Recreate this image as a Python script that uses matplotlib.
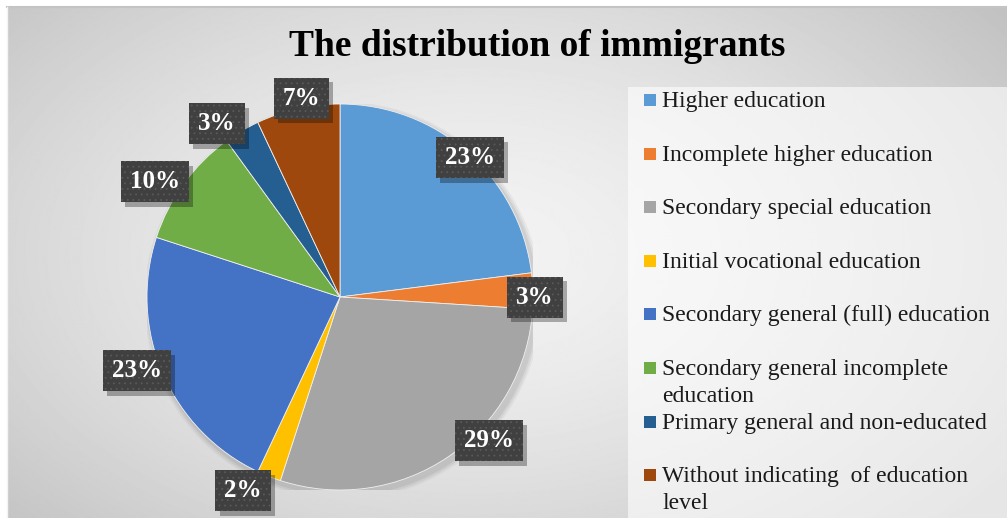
import numpy as np
import matplotlib
matplotlib.use("Agg")
import matplotlib.pyplot as plt
import matplotlib.patheffects as pe
from matplotlib.patches import Rectangle

# ---- data ----
categories = [
    "Higher education",
    "Incomplete higher education",
    "Secondary special education",
    "Initial vocational education",
    "Secondary general (full) education",
    "Secondary general incomplete\neducation",
    "Primary general and non-educated",
    "Without indicating  of education\nlevel",
]
shares = [23, 3, 29, 2, 23, 10, 3, 7]
colors = ["#5B9BD5", "#ED7D31", "#A5A5A5", "#FFC000",
          "#4472C4", "#70AD47", "#255E91", "#9E480E"]
title = "The distribution of immigrants"

# label placement tweaks (distance in radii, angle shift in degrees, ccw)
label_dist = [0.985, 1.01, 1.07, 1.12, 1.12, 1.13, 1.10, 1.05]
label_shift = [-1.6, -1.8, 11.8, -5.0, -3.4, 4.0, 4.8, -1.6]

W, H = 1007, 518
SERIF = ["Liberation Serif", "DejaVu Serif"]
plt.rcParams["hatch.linewidth"] = 0.6


class BoxShadow(pe.AbstractPathEffect):
    """Plain offset shadow (no hatch) for the label boxes."""

    def __init__(self, offset=(3, -3.5), alpha=0.3):
        super().__init__(offset)
        self.alpha = alpha

    def draw_path(self, renderer, gc, tpath, affine, rgbFace):
        gc0 = renderer.new_gc()
        gc0.copy_properties(gc)
        gc0.set_hatch(None)
        gc0.set_linewidth(0)
        gc0.set_alpha(self.alpha)
        renderer.draw_path(gc0, tpath, affine + self._offset_transform(renderer),
                           (0, 0, 0))
        gc0.restore()


fig = plt.figure(figsize=(W / 100, H / 100), dpi=100)
fig.patch.set_facecolor("white")

# background layer in pixel coordinates
bg = fig.add_axes([0, 0, 1, 1])
bg.set_xlim(0, W)
bg.set_ylim(H, 0)
bg.axis("off")

yy, xx = np.mgrid[0:H, 0:W]
d = np.sqrt(((xx - 470) / 620.0) ** 2 + ((yy - 250) / 380.0) ** 2)
shade = np.clip(0.95 - 0.17 * d ** 1.6, 0.76, 0.95)
bg.imshow(shade, cmap="gray", vmin=0, vmax=1, extent=(7, W, H, 7),
          interpolation="bilinear", zorder=0)
bg.plot([7, W], [7, 7], color="#c4c4c4", lw=1.5, zorder=1)
bg.plot([7, 7], [7, H], color="#f4f4f4", lw=1, zorder=1)

# legend panel
bg.add_patch(Rectangle((628, 87), W - 628, H - 87, facecolor="white",
                       alpha=0.6, edgecolor="none", zorder=1))

bg.text(537, 46, title, ha="center", va="center", fontsize=27,
        fontweight="bold", family=SERIF, color="black", zorder=3)

# legend entries (each wrapped line placed under the first one)
for i, (lab, col) in enumerate(zip(categories, colors)):
    yc = 100 + i * 53.6
    bg.add_patch(Rectangle((644, yc - 6), 12, 12, facecolor=col,
                           edgecolor="none", zorder=3))
    for j, line in enumerate(lab.split("\n")):
        bg.text(662, yc + 7 + j * 27, line, ha="left", va="baseline",
                fontsize=17, family=SERIF, color="#1a1a1a", zorder=3)

# pie
cx, cy, r = 340, 297, 193
ax = fig.add_axes([(cx - r) / W, (H - cy - r) / H, 2 * r / W, 2 * r / H])
ax.axis("off")

# soft shadow under the pie
for k, a in [(1.03, 0.04), (1.02, 0.05), (1.01, 0.06)]:
    ax.add_patch(plt.Circle((0.015, -0.02), k, color="black", alpha=a,
                            lw=0, zorder=0))

wedges, _ = ax.pie(shares, colors=colors, startangle=90, counterclock=False,
                   radius=1, wedgeprops=dict(edgecolor="#f0f0f0", linewidth=0.6),
                   frame=False)
ax.set_xlim(-1, 1)
ax.set_ylim(-1, 1)

for w, v, dist, shift in zip(wedges, shares, label_dist, label_shift):
    ang = np.deg2rad((w.theta1 + w.theta2) / 2 + shift)
    t = ax.text(dist * np.cos(ang), dist * np.sin(ang), f"{v}%",
                ha="center", va="center", fontsize=18, fontweight="bold",
                family=SERIF, color="white", zorder=5, clip_on=False,
                bbox=dict(boxstyle="square,pad=0.36", facecolor="#404040",
                          edgecolor="#595959", linewidth=0, hatch="..."))
    t.get_bbox_patch().set_path_effects([BoxShadow(), pe.Normal()])

fig.savefig("out.png", dpi=100)
